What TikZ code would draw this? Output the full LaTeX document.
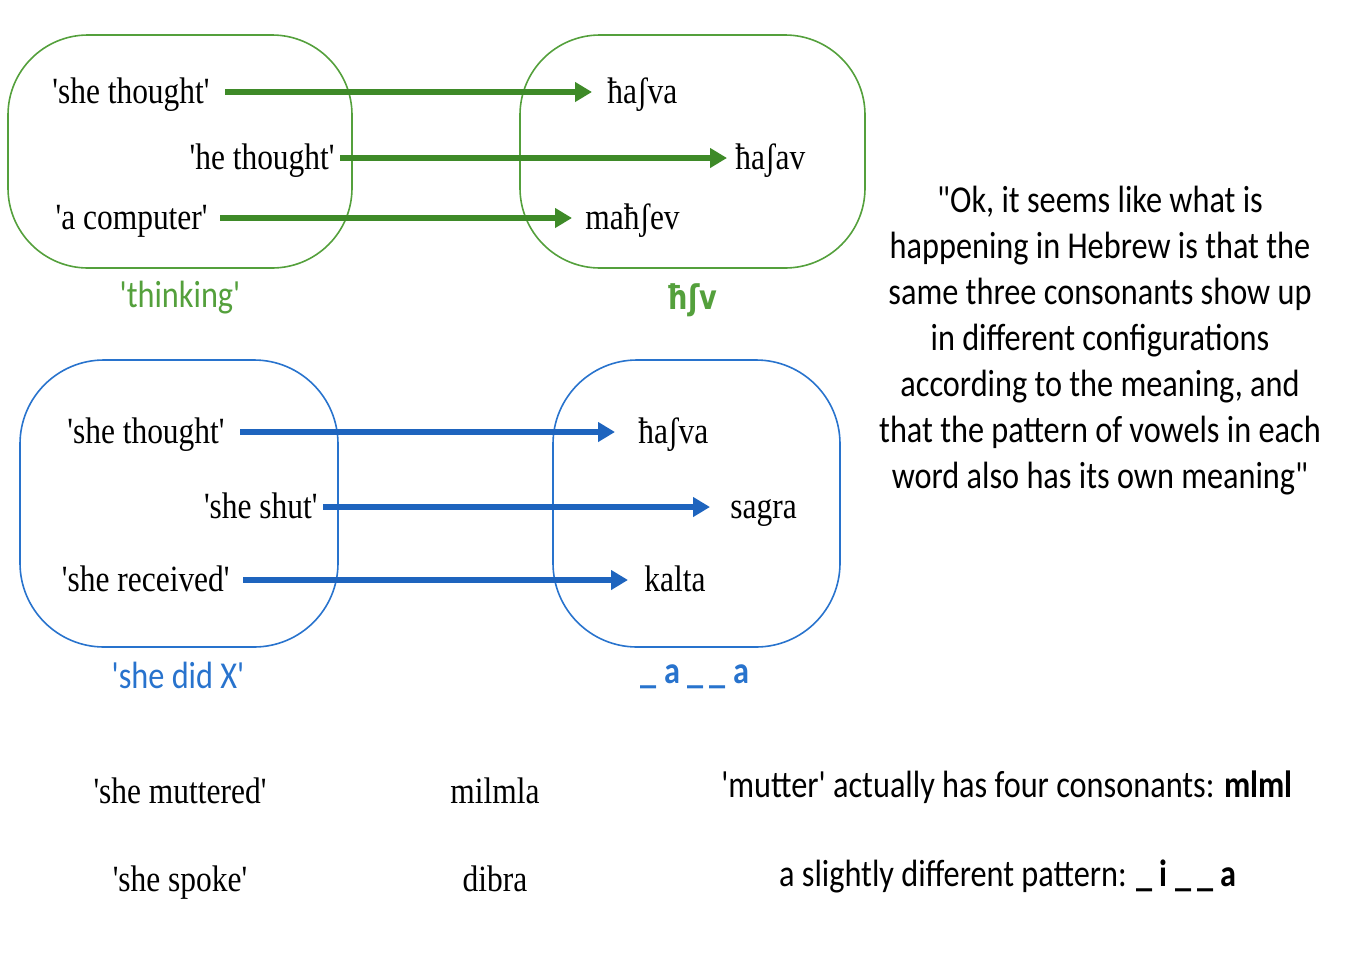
\documentclass[tikz,border=0pt]{standalone}
\usepackage{fontspec}
\setmainfont{Liberation Serif}[FakeStretch=0.85,Ligatures=TeXOff]
\setsansfont{Carlito}[FakeStretch=0.85,Ligatures=TeXOff]
\newfontfamily\ipasans{DejaVu Sans}[FakeStretch=0.8]
\usetikzlibrary{arrows.meta}
\definecolor{thinkgreen}{RGB}{62,138,40}
\definecolor{labelgreen}{RGB}{84,160,60}
\definecolor{didblue}{RGB}{30,100,190}
\definecolor{labelblue}{RGB}{40,115,205}

\begin{document}
\begin{tikzpicture}[x=0.5pt,y=-0.5pt,
    word/.style={inner sep=0pt,text height=12.5pt,text depth=1.5pt,
        font=\fontsize{18.5}{22}\selectfont},
    note/.style={inner sep=0pt,font=\sffamily\fontsize{19}{23}\selectfont},
    garrow/.style={-{Triangle[length=8.5pt,width=9.5pt]},line width=2.6pt,thinkgreen},
    barrow/.style={-{Triangle[length=8.5pt,width=9.5pt]},line width=2.6pt,didblue}]
    \useasboundingbox (0,0) rectangle (1350,970);
    % sets
    \draw[labelgreen,line width=0.8pt,rounded corners=40pt] (8,35) rectangle (352,268);
    \draw[labelgreen,line width=0.8pt,rounded corners=40pt] (520,35) rectangle (865,268);
    \draw[labelblue,line width=0.8pt,rounded corners=42pt] (20,360) rectangle (338,647);
    \draw[labelblue,line width=0.8pt,rounded corners=42pt] (553,360) rectangle (840,647);
    % meanings and words
    \node[word,anchor=east] (gthought) at (210,92) {'she thought'};
    \node[word,anchor=east] (hethought) at (335,158) {'he thought'};
    \node[word,anchor=east] (computer) at (208,218) {'a computer'};
    \node[word,anchor=west] (hasva) at (607,92) {ħaʃva};
    \node[word,anchor=west] (hasav) at (735,158) {ħaʃav};
    \node[word,anchor=west] (mahsev) at (585,218) {maħʃev};

    \node[word,anchor=east] (bthought) at (225,432) {'she thought'};
    \node[word,anchor=east] (shut) at (318,507) {'she shut'};
    \node[word,anchor=east] (received) at (230,580) {'she received'};
    \node[word,anchor=west] (bhasva) at (638,432) {ħaʃva};
    \node[word,anchor=west] (sagra) at (730,507) {sagra};
    \node[word,anchor=west] (kalta) at (644,580) {kalta};
    % arrows
    \draw[garrow,shorten <=7.5pt,shorten >=7.5pt] (gthought) -- (hasva);
    \draw[garrow,shorten <=2.5pt,shorten >=4pt] (hethought) -- (hasav);
    \draw[garrow,shorten <=6pt,shorten >=6.5pt] (computer) -- (mahsev);
    \draw[barrow,shorten <=7.5pt,shorten >=11.5pt] (bthought) -- (bhasva);
    \draw[barrow,shorten <=2.5pt,shorten >=10pt] (shut) -- (sagra);
    \draw[barrow,shorten <=6.5pt,shorten >=8pt] (received) -- (kalta);
    % set labels
    \node[note,labelgreen] (thinking) at (180,298) {'thinking'};
    \node[note,labelgreen,font=\ipasans\bfseries\fontsize{17}{20}\selectfont] (root) at (692,300) {ħʃv};
    \node[note,labelblue] (didx) at (178,675) {'she did X'};
    \node[note,labelblue,font=\sffamily\bfseries\fontsize{19}{23}\selectfont] (pattern) at (695,677) {\_ a \_\,\_ a};
    % remark
    \node[note,align=center] (remark) at (1100,341) {"Ok, it seems like what is\\
        happening in Hebrew is that the\\
        same three consonants show up\\
        in different configurations\\
        according to the meaning, and\\
        that the pattern of vowels in each\\
        word also has its own meaning"};
    % further words
    \node[word] (muttered) at (180,792) {'she muttered'};
    \node[word] (milmla) at (495,792) {milmla};
    \node[note] (mlml) at (1007,787) {'mutter' actually has four consonants: \textbf{mlml}};
    \node[word] (spoke) at (180,880) {'she spoke'};
    \node[word] (dibra) at (495,880) {dibra};
    \node[note] (slightly) at (1008,876) {a slightly different pattern: \textbf{\_ i \_\,\_ a}};
\end{tikzpicture}
\end{document}
